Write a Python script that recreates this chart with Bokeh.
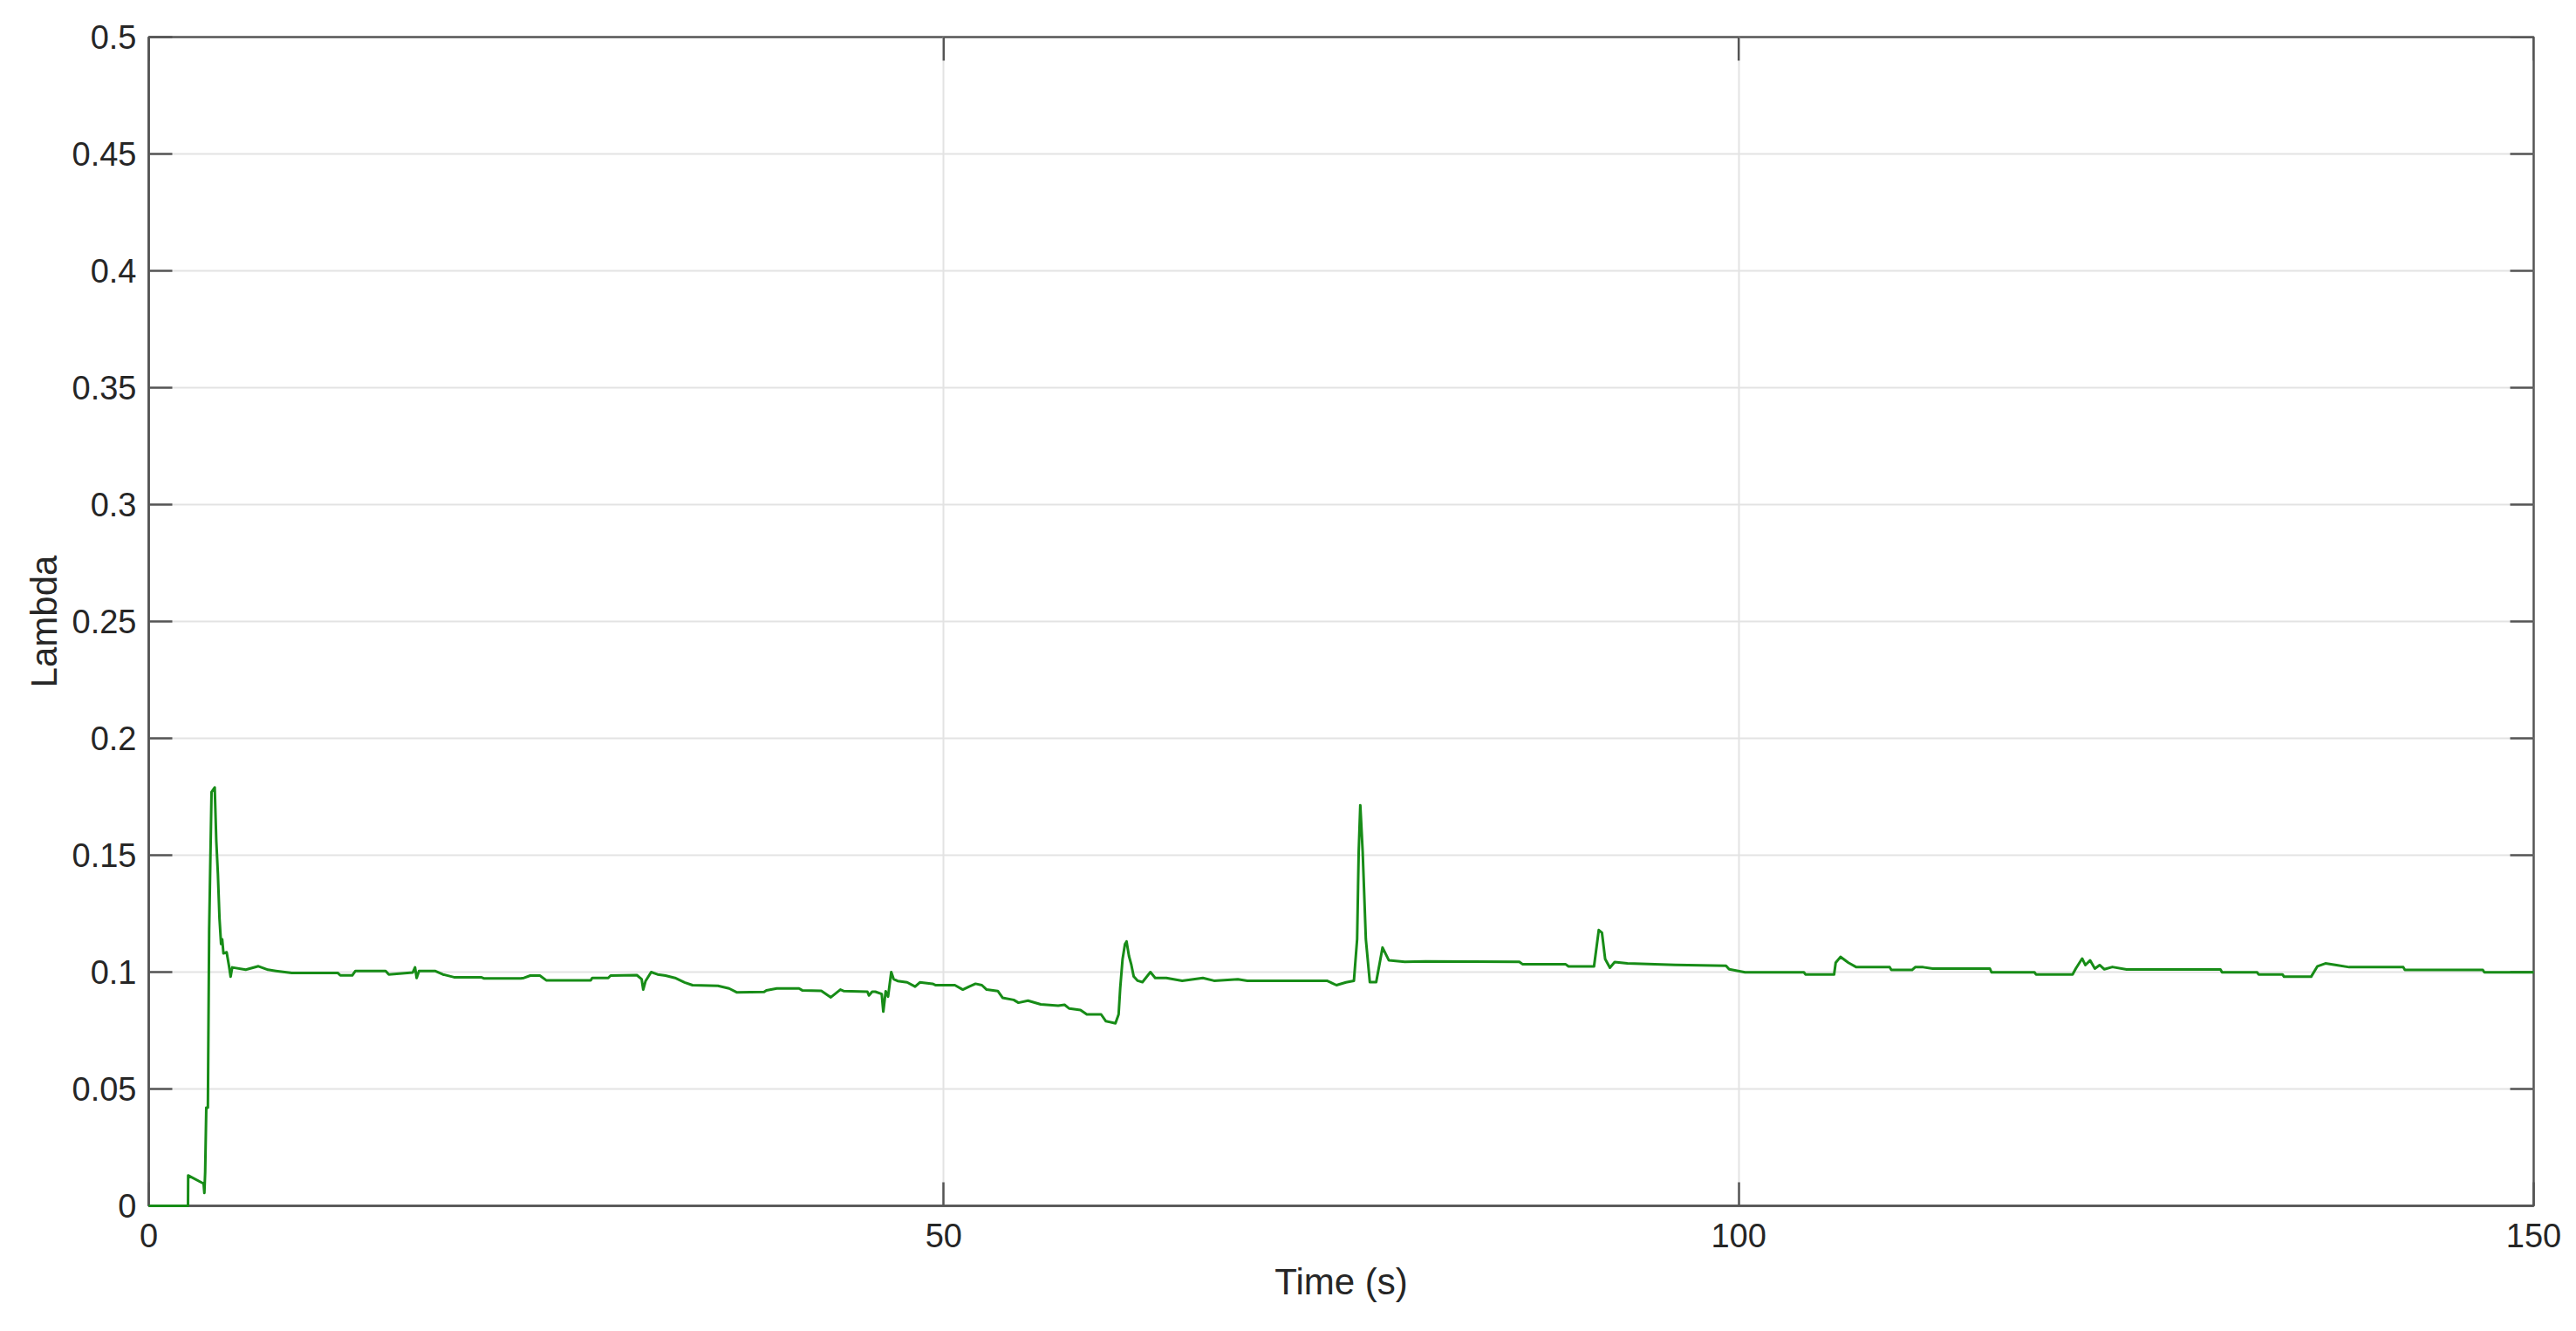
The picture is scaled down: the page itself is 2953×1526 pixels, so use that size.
import math
from bokeh.plotting import figure
from bokeh.models import Range1d, FixedTicker
from bokeh.embed import file_html
from bokeh.resources import INLINE

# ---- data ----
time_s = [0, 2.47, 2.48, 3.45, 3.50, 3.55, 3.62, 3.72, 3.80, 3.95, 4.15, 4.25, 4.35, 4.45, 4.55,
          4.62, 4.70, 4.90, 5.05, 5.15, 5.25, 6.10, 6.9, 7.5, 8.0, 9.0, 11.9, 12.05, 12.8, 13.0,
          14.9, 15.1, 16.6, 16.75, 16.85, 17.0, 18.0, 18.5, 19.2, 20.9, 21.07, 23.4, 23.6, 24.0,
          24.6, 25.0, 27.8, 27.9, 28.9, 29.05, 30.7, 31.0, 31.1, 31.25, 31.6, 32.0, 32.5, 33.1,
          33.7, 34.2, 35.8, 36.5, 37.0, 38.7, 38.85, 39.5, 40.9, 41.1, 42.3, 42.9, 43.5, 43.7,
          45.2, 45.3, 45.5, 45.7, 46.1, 46.2, 46.35, 46.5, 46.7, 46.85, 47.1, 47.7, 48.2, 48.5,
          49.3, 49.5, 50.7, 51.2, 51.6, 52.0, 52.4, 52.7, 53.4, 53.7, 54.4, 54.7, 55.3, 56.1,
          57.2, 57.6, 57.9, 58.6, 59.0, 59.9, 60.2, 60.8, 61.0, 61.1, 61.25, 61.4, 61.5, 61.65,
          61.8, 61.95, 62.2, 62.5, 63.0, 63.3, 64.0, 65.0, 66.3, 67.0, 68.5, 69.1, 74.1, 74.7,
          75.3, 75.8, 76.0, 76.1, 76.2, 76.35, 76.55, 76.8, 77.2, 77.6, 78.0, 79.0, 80.3, 86.2,
          86.4, 89.1, 89.3, 90.9, 91.2, 91.4, 91.6, 91.9, 92.2, 93.0, 96.0, 99.2, 99.4, 100.4,
          104.1, 104.2, 106.0, 106.1, 106.4, 106.9, 107.4, 109.5, 109.6, 110.9, 111.1, 111.6,
          112.2, 115.8, 115.9, 118.6, 118.7, 121.0, 121.2, 121.6, 121.8, 122.1, 122.4, 122.7,
          123.0, 123.5, 124.4, 130.3, 130.4, 132.6, 132.7, 134.2, 134.3, 136.0, 136.4, 136.9,
          137.6, 138.4, 141.8, 141.9, 146.8, 146.9, 150.0]
lambda_v = [0, 0, 0.013, 0.0095, 0.0055, 0.0145, 0.042, 0.042, 0.118, 0.177, 0.179, 0.156, 0.142,
            0.123, 0.112, 0.114, 0.108, 0.1085, 0.1025, 0.098, 0.102, 0.101, 0.1025, 0.101, 0.1005,
            0.0996, 0.0996, 0.0986, 0.0986, 0.1005, 0.1005, 0.0990, 0.0998, 0.102, 0.0975, 0.1005,
            0.1005, 0.099, 0.0978, 0.0978, 0.0973, 0.0973, 0.0975, 0.0985, 0.0985, 0.0965, 0.0965,
            0.0975, 0.0975, 0.0985, 0.0987, 0.0970, 0.0925, 0.0962, 0.1000, 0.0990, 0.0985, 0.0975,
            0.0956, 0.0944, 0.0941, 0.0930, 0.0913, 0.0915, 0.0922, 0.0930, 0.0930, 0.0922, 0.0920,
            0.0892, 0.0925, 0.0919, 0.0916, 0.0900, 0.0916, 0.0916, 0.0906, 0.0831, 0.0918, 0.0895,
            0.1000, 0.0970, 0.0962, 0.0956, 0.0938, 0.0956, 0.0950, 0.0944, 0.0944, 0.0925, 0.0938,
            0.0950, 0.0944, 0.0925, 0.0919, 0.0890, 0.0881, 0.0869, 0.0878, 0.0862, 0.0856, 0.0860,
            0.0844, 0.0838, 0.0819, 0.0819, 0.0790, 0.0781, 0.0819, 0.0931, 0.1056, 0.1119, 0.1131,
            0.1069, 0.1031, 0.0981, 0.0963, 0.0957, 0.1000, 0.0975, 0.0975, 0.0963, 0.0975, 0.0963,
            0.0969, 0.0963, 0.0963, 0.0944, 0.0956, 0.0963, 0.1140, 0.1515, 0.1714, 0.1515, 0.1140,
            0.0957, 0.0957, 0.1105, 0.1050, 0.1044, 0.1046, 0.1044, 0.1034, 0.1034, 0.1024, 0.1024,
            0.1180, 0.1168, 0.1056, 0.1019, 0.1043, 0.1037, 0.1031, 0.1027, 0.1012, 0.0999, 0.0999,
            0.0990, 0.0990, 0.1040, 0.1065, 0.1040, 0.1021, 0.1021, 0.1009, 0.1009, 0.1021, 0.1021,
            0.1015, 0.1015, 0.0999, 0.0999, 0.0990, 0.0990, 0.1015, 0.1058, 0.1030, 0.1050, 0.1015,
            0.1030, 0.1012, 0.1022, 0.1011, 0.1011, 0.0999, 0.0999, 0.0990, 0.0990, 0.0980, 0.0980,
            0.1025, 0.1037, 0.1030, 0.1021, 0.1021, 0.1009, 0.1009, 0.0999, 0.0999]

x_ticks = [0, 50, 100, 150]
y_ticks = [0, 0.05, 0.1, 0.15, 0.2, 0.25, 0.3, 0.35, 0.4, 0.45, 0.5]
y_tick_labels = ["0", "0.05", "0.1", "0.15", "0.2", "0.25", "0.3", "0.35", "0.4", "0.45", "0.5"]
x_label = "Time (s)"
y_label = "Lambda"

X_MIN, X_MAX = 0, 150
Y_MIN, Y_MAX = 0, 0.5

FONT = "Liberation Sans"
TXT = "#262626"
AX = "#555555"
TICK_LEN = 27

p = figure(width=2937, height=1510, output_backend="svg", toolbar_location=None,
           x_range=Range1d(X_MIN, X_MAX), y_range=Range1d(Y_MIN, Y_MAX),
           min_border_left=170, min_border_right=33, min_border_top=42, min_border_bottom=128)
p.outline_line_color = AX
p.outline_line_width = 2.5
p.background_fill_color = "white"
p.border_fill_color = "white"

xt = FixedTicker(ticks=x_ticks, minor_ticks=[])
yt = FixedTicker(ticks=y_ticks, minor_ticks=[])

p.xgrid.ticker = xt
p.ygrid.ticker = yt
for g in (p.xgrid[0], p.ygrid[0]):
    g.grid_line_color = "#e3e3e3"
    g.grid_line_width = 2

# top and right inward ticks (box style)
p.ray(x=x_ticks, y=[Y_MAX] * len(x_ticks), length=TICK_LEN, length_units="screen",
      angle=-math.pi / 2, line_color=AX, line_width=2.5)
p.ray(x=[X_MAX] * len(y_ticks), y=y_ticks, length=TICK_LEN, length_units="screen",
      angle=math.pi, line_color=AX, line_width=2.5)

line = p.line(time_s, lambda_v, line_color="#178c17", line_width=3, line_join="round")
line.level = "overlay"


def style(ax, ticker):
    ax.ticker = ticker
    ax.major_tick_in = TICK_LEN
    ax.major_tick_out = 0
    ax.minor_tick_in = 0
    ax.minor_tick_out = 0
    ax.axis_line_color = AX
    ax.axis_line_width = 2.5
    ax.major_tick_line_color = AX
    ax.major_tick_line_width = 2.5
    ax.major_label_text_font = FONT
    ax.major_label_text_color = TXT
    ax.major_label_text_font_size = "38px"
    ax.axis_label_text_font = FONT
    ax.axis_label_text_color = TXT
    ax.axis_label_text_font_style = "normal"
    ax.axis_label_text_font_size = "42px"


xa = p.xaxis[0]
style(xa, xt)
xa.axis_label = x_label
xa.major_label_standoff = 20
xa.axis_label_standoff = 13

ya = p.yaxis[0]
style(ya, yt)
ya.axis_label = y_label
ya.major_label_standoff = 14
ya.axis_label_standoff = 6
ya.major_label_overrides = {t: s for t, s in zip(y_ticks, y_tick_labels)}

open("out.html", "w").write(file_html(p, INLINE))
